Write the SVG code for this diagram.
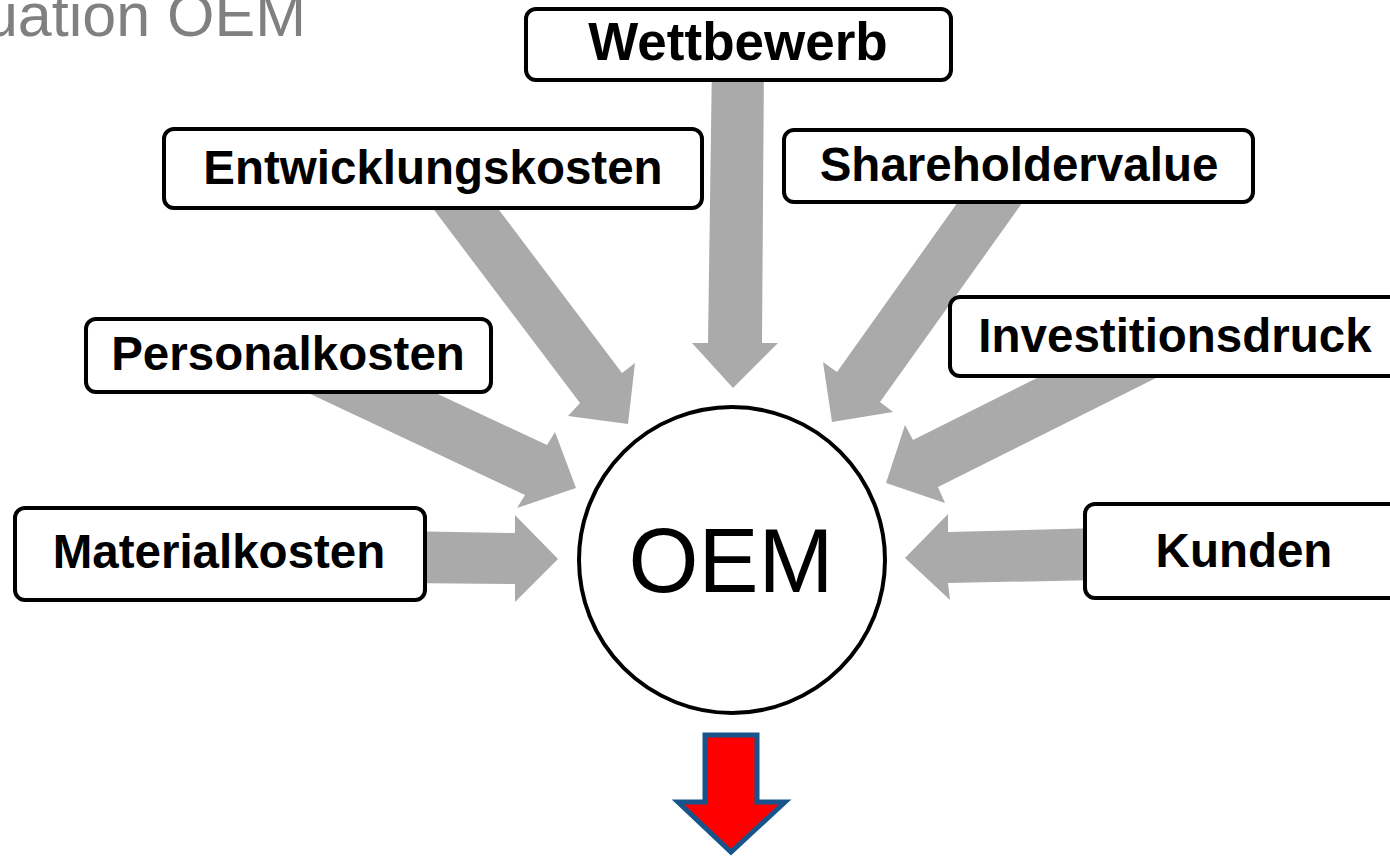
<svg xmlns="http://www.w3.org/2000/svg" width="1390" height="856" viewBox="0 0 1390 856">
<style>
.box{fill:#fff;stroke:#000;stroke-width:4}
.lbl{font-family:"Liberation Sans",Arial,sans-serif;font-weight:bold;font-size:47.5px;fill:#000;text-anchor:middle}
.arr{fill:#aaaaaa;stroke:none}
</style>
<rect width="1390" height="856" fill="#fff"/>
<text x="306" y="36" font-family="Liberation Sans, Arial, sans-serif" font-size="61" fill="#808080" text-anchor="end">uation OEM</text>
<g id="connectors">
<polygon class="arr" points="712,60 764,60 762,343 778,343 733,388 692,343 708,343"/>
<polygon class="arr" points="419,190 484,190 622,373 635,363 628,424 568,416 580,403"/>
<polygon class="arr" points="970,185 1035,185 880,402 893,412 832,422 823,362 837,372"/>
<polygon class="arr" points="397,375 547,445 555,432 576,488 517,508 525,495 270,375"/>
<polygon class="arr" points="400,531 515,533 515,515 558,559 515,602 515,584 400,583"/>
<polygon class="arr" points="1100,528 948,532 948,514 905,558 950,600 948,583 1100,580"/>
<polygon class="arr" points="1073,360 1192,360 938,487 945,503 886,483 905,425 913,440"/>
<polygon points="705,735 757,735 757,802 785,802 731,852 678,802 705,802" fill="#ff0000" stroke="#17548c" stroke-width="5" stroke-linejoin="miter"/>
</g>
<g id="wettbewerb"><rect class="box" x="526" y="9" width="425" height="71" rx="10"/><text class="lbl" x="738" y="60" style="font-size:53px">Wettbewerb</text></g>
<g id="entwicklungskosten"><rect class="box" x="164" y="129" width="538" height="79" rx="10"/><text class="lbl" x="433" y="184">Entwicklungskosten</text></g>
<g id="shareholdervalue"><rect class="box" x="784" y="130" width="469" height="72" rx="10"/><text class="lbl" x="1019" y="181">Shareholdervalue</text></g>
<g id="personalkosten"><rect class="box" x="86" y="319" width="405" height="73" rx="10"/><text class="lbl" x="288" y="370">Personalkosten</text></g>
<g id="investitionsdruck"><rect class="box" x="950" y="297" width="460" height="79" rx="10"/><text class="lbl" x="1175" y="352">Investitionsdruck</text></g>
<g id="materialkosten"><rect class="box" x="15" y="508" width="410" height="92" rx="10"/><text class="lbl" x="219" y="568">Materialkosten</text></g>
<g id="kunden"><rect class="box" x="1085" y="504" width="330" height="94" rx="10"/><text class="lbl" x="1244" y="567">Kunden</text></g>
<g id="oem"><circle cx="732" cy="560" r="153" fill="#fff" stroke="#000" stroke-width="4"/><text x="731" y="592" font-family="Liberation Sans, Arial, sans-serif" font-size="90" text-anchor="middle" fill="#000">OEM</text></g>
</svg>
